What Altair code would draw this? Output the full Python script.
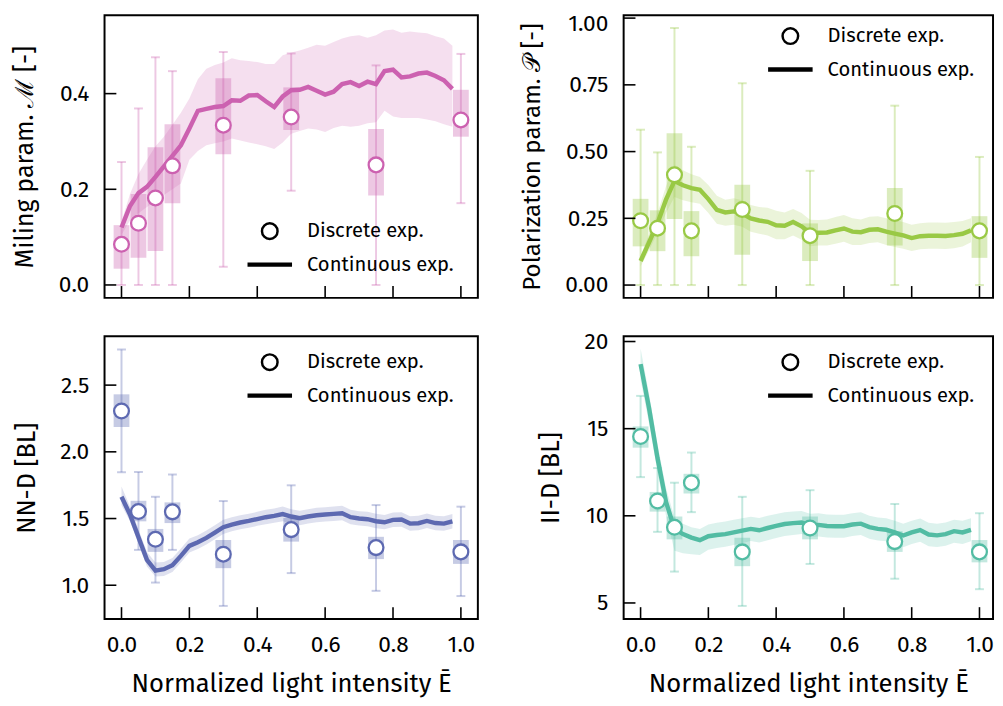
import altair as alt
import pandas as pd

FONT = "Fira Sans, Open Sans, sans-serif"

# x positions
xd = [0.0, 0.05, 0.1, 0.15, 0.3, 0.5, 0.75, 1.0]
xc = [0.0, 0.025, 0.05, 0.075, 0.1, 0.125, 0.15, 0.175, 0.2, 0.225,
      0.25, 0.275, 0.3, 0.325, 0.35, 0.375, 0.4, 0.425, 0.45, 0.475,
      0.5, 0.525, 0.55, 0.575, 0.6, 0.625, 0.65, 0.675, 0.7, 0.725,
      0.75, 0.775, 0.8, 0.825, 0.85, 0.875, 0.9, 0.925, 0.95, 0.975]
xticks = [0.0, 0.2, 0.4, 0.6, 0.8, 1.0]

# Miling parameter
mil_mean = [0.085, 0.129, 0.182, 0.249, 0.334, 0.351, 0.251, 0.345]
mil_q1 = [0.034, 0.057, 0.071, 0.171, 0.273, 0.324, 0.187, 0.310]
mil_q3 = [0.125, 0.190, 0.288, 0.336, 0.432, 0.413, 0.326, 0.408]
mil_wlo = [0.0, 0.0, 0.0, 0.0, 0.038, 0.197, 0.0, 0.171]
mil_whi = [0.257, 0.369, 0.476, 0.447, 0.487, 0.484, 0.459, 0.483]
mil_line = [0.120, 0.165, 0.192, 0.205, 0.226, 0.248, 0.270, 0.292, 0.327, 0.364,
            0.368, 0.372, 0.374, 0.386, 0.385, 0.396, 0.397, 0.384, 0.372, 0.394,
            0.407, 0.408, 0.414, 0.406, 0.398, 0.404, 0.420, 0.424, 0.416, 0.425,
            0.420, 0.447, 0.450, 0.434, 0.436, 0.442, 0.444, 0.437, 0.428, 0.410]
mil_hi = [0.132, 0.190, 0.232, 0.262, 0.290, 0.310, 0.335, 0.360, 0.390, 0.430,
          0.452, 0.460, 0.465, 0.474, 0.470, 0.468, 0.466, 0.462, 0.462, 0.480,
          0.486, 0.490, 0.496, 0.502, 0.500, 0.508, 0.515, 0.520, 0.522, 0.517,
          0.522, 0.532, 0.534, 0.527, 0.530, 0.528, 0.526, 0.520, 0.515, 0.500]
mil_lo = [0.105, 0.135, 0.150, 0.163, 0.175, 0.188, 0.200, 0.212, 0.262, 0.280,
          0.292, 0.296, 0.300, 0.306, 0.302, 0.298, 0.294, 0.290, 0.284, 0.298,
          0.316, 0.322, 0.327, 0.325, 0.320, 0.328, 0.333, 0.331, 0.333, 0.338,
          0.340, 0.364, 0.352, 0.349, 0.349, 0.349, 0.346, 0.342, 0.336, 0.331]

# Polarization parameter
pol_mean = [0.241, 0.213, 0.413, 0.203, 0.283, 0.185, 0.268, 0.203]
pol_q1 = [0.145, 0.127, 0.247, 0.108, 0.114, 0.090, 0.148, 0.102]
pol_q3 = [0.323, 0.280, 0.569, 0.277, 0.376, 0.231, 0.364, 0.258]
pol_wlo = [0.0, 0.0, 0.0, 0.0, 0.0, 0.0, 0.0, 0.0]
pol_whi = [0.582, 0.497, 0.963, 0.518, 0.756, 0.428, 0.672, 0.480]
pol_line = [0.090, 0.160, 0.232, 0.320, 0.390, 0.374, 0.363, 0.357, 0.322, 0.282,
            0.272, 0.276, 0.268, 0.250, 0.242, 0.237, 0.224, 0.222, 0.236, 0.220,
            0.195, 0.196, 0.197, 0.205, 0.212, 0.200, 0.198, 0.207, 0.209, 0.200,
            0.193, 0.186, 0.176, 0.183, 0.185, 0.185, 0.184, 0.187, 0.192, 0.205]
pol_hi = [0.110, 0.190, 0.270, 0.370, 0.450, 0.430, 0.415, 0.405, 0.375, 0.335,
          0.320, 0.325, 0.318, 0.300, 0.292, 0.290, 0.278, 0.272, 0.285, 0.270,
          0.245, 0.244, 0.246, 0.255, 0.262, 0.250, 0.246, 0.256, 0.258, 0.250,
          0.243, 0.236, 0.226, 0.232, 0.234, 0.234, 0.233, 0.236, 0.240, 0.250]
pol_lo = [0.070, 0.130, 0.195, 0.270, 0.330, 0.318, 0.310, 0.305, 0.270, 0.230,
          0.222, 0.226, 0.218, 0.200, 0.192, 0.186, 0.172, 0.172, 0.186, 0.170,
          0.145, 0.148, 0.148, 0.155, 0.162, 0.150, 0.150, 0.158, 0.160, 0.150,
          0.143, 0.136, 0.128, 0.134, 0.136, 0.136, 0.135, 0.138, 0.144, 0.160]

# Nearest-neighbour distance
nnd_mean = [2.306, 1.552, 1.344, 1.550, 1.233, 1.417, 1.282, 1.250]
nnd_q1 = [2.186, 1.479, 1.250, 1.466, 1.128, 1.327, 1.196, 1.160]
nnd_q3 = [2.431, 1.633, 1.422, 1.621, 1.339, 1.504, 1.363, 1.339]
nnd_wlo = [1.847, 1.265, 1.020, 1.265, 0.845, 1.091, 0.958, 0.919]
nnd_whi = [2.767, 1.849, 1.663, 1.830, 1.631, 1.749, 1.601, 1.589]
nnd_line = [1.663, 1.530, 1.360, 1.190, 1.110, 1.120, 1.150, 1.220, 1.295, 1.322,
            1.355, 1.395, 1.435, 1.455, 1.470, 1.482, 1.496, 1.510, 1.520, 1.533,
            1.515, 1.503, 1.515, 1.525, 1.530, 1.535, 1.540, 1.510, 1.500, 1.495,
            1.480, 1.472, 1.490, 1.492, 1.462, 1.465, 1.482, 1.466, 1.462, 1.479]
nnd_hi = [1.740, 1.590, 1.420, 1.250, 1.170, 1.175, 1.205, 1.275, 1.350, 1.375,
          1.410, 1.450, 1.490, 1.510, 1.525, 1.535, 1.550, 1.565, 1.575, 1.590,
          1.570, 1.558, 1.570, 1.580, 1.585, 1.590, 1.595, 1.565, 1.555, 1.550,
          1.535, 1.527, 1.545, 1.547, 1.517, 1.520, 1.537, 1.521, 1.517, 1.534]
nnd_lo = [1.600, 1.480, 1.310, 1.140, 1.065, 1.070, 1.100, 1.170, 1.245, 1.272,
          1.305, 1.345, 1.385, 1.405, 1.420, 1.430, 1.445, 1.458, 1.468, 1.480,
          1.462, 1.450, 1.462, 1.472, 1.477, 1.482, 1.487, 1.457, 1.447, 1.442,
          1.427, 1.419, 1.437, 1.439, 1.409, 1.412, 1.429, 1.413, 1.409, 1.426]

# Inter-individual distance
iid_mean = [14.55, 10.85, 9.34, 11.90, 7.93, 9.30, 8.52, 7.93]
iid_q1 = [13.91, 10.24, 8.65, 11.28, 7.11, 8.65, 7.93, 7.33]
iid_q3 = [15.13, 11.37, 9.96, 12.41, 8.74, 9.96, 9.12, 8.61]
iid_wlo = [12.22, 9.08, 6.80, 10.21, 4.83, 7.24, 6.39, 5.79]
iid_whi = [16.88, 12.74, 11.90, 13.63, 11.09, 11.47, 10.68, 10.15]
iid_line = [18.70, 16.17, 13.30, 10.80, 9.25, 8.95, 8.75, 8.60, 8.83, 8.90,
            8.95, 9.05, 9.15, 9.25, 9.17, 9.30, 9.42, 9.53, 9.58, 9.62,
            9.45, 9.48, 9.42, 9.40, 9.40, 9.50, 9.55, 9.35, 9.25, 9.20,
            9.05, 8.87, 9.05, 9.18, 8.93, 8.88, 8.95, 9.12, 9.05, 9.20]
iid_hi = [19.60, 17.00, 14.10, 11.60, 9.90, 9.55, 9.35, 9.25, 9.50, 9.60,
          9.68, 9.78, 9.86, 9.95, 9.88, 10.00, 10.10, 10.20, 10.25, 10.28,
          10.12, 10.15, 10.08, 10.06, 10.06, 10.15, 10.20, 10.01, 9.91, 9.86,
          9.72, 9.55, 9.72, 9.85, 9.60, 9.55, 9.62, 9.78, 9.72, 9.86]
iid_lo = [17.80, 15.30, 12.50, 10.00, 8.00, 7.85, 7.80, 7.75, 8.05, 8.15,
          8.22, 8.32, 8.44, 8.55, 8.47, 8.60, 8.72, 8.84, 8.90, 8.95,
          8.78, 8.81, 8.75, 8.74, 8.74, 8.84, 8.90, 8.69, 8.59, 8.54,
          8.38, 8.20, 8.38, 8.51, 8.26, 8.21, 8.28, 8.46, 8.38, 8.54]

legend_kinds = ["Discrete exp.", "Continuous exp."]
legend_shapes = ["circle", "M-2.7,-0.127H2.7V0.127H-2.7Z"]

H = 287


def panel(color, mean, q1, q3, wlo, whi, line, lo, hi, ydom, yticks, yfmt,
          ytitle, bottom, width, xdom, legx, legy, flush=False, ytsize=25.5):
    disc = pd.DataFrame({"x": xd, "mean": mean, "q1": q1, "q3": q3,
                         "wlo": wlo, "whi": whi})
    cont = pd.DataFrame({"x": xc, "line": line, "lo": lo, "hi": hi})
    keydf = pd.DataFrame({"kind": legend_kinds, "x": [xd[0]] * 2, "mean": [mean[0]] * 2})
    xs = alt.Scale(domain=xdom, nice=False, zero=False, padding=0)
    ys = alt.Scale(domain=ydom, nice=False, zero=False, padding=0)
    if bottom:
        xaxis = alt.Axis(values=xticks, format=".1f", ticks=False, domain=False,
                         grid=False, labelPadding=15,
                         title="Normalized light intensity Ē", titlePadding=15,
                         titleFontSize=26)
    else:
        xaxis = None
    yargs = dict(values=yticks, format=yfmt, ticks=False, domain=False,
                 grid=False, labelPadding=16, title=ytitle, titlePadding=21,
                 titleFontSize=ytsize)
    if flush:
        yargs.update(labelFlush=5, labelFlushOffset=5)
    yaxis = alt.Axis(**yargs)

    def X(f):
        return alt.X(f, scale=xs, axis=xaxis)

    def Y(f):
        return alt.Y(f, scale=ys, axis=yaxis)

    band = alt.Chart(cont).mark_area(color=color, opacity=0.2).encode(
        x=X("x:Q"), y=Y("lo:Q"), y2="hi:Q")
    whisk = alt.Chart(disc).mark_rule(color=color, opacity=0.35, strokeWidth=2).encode(
        x=X("x:Q"), y=Y("wlo:Q"), y2="whi:Q")
    cap_lo = alt.Chart(disc).mark_tick(color=color, opacity=0.35, orient="horizontal",
                                       size=9, thickness=2).encode(x=X("x:Q"), y=Y("wlo:Q"))
    cap_hi = alt.Chart(disc).mark_tick(color=color, opacity=0.35, orient="horizontal",
                                       size=9, thickness=2).encode(x=X("x:Q"), y=Y("whi:Q"))
    box = alt.Chart(disc).mark_bar(color=color, opacity=0.35, size=16).encode(
        x=X("x:Q"), y=Y("q1:Q"), y2="q3:Q")
    ln = alt.Chart(cont).mark_line(color=color, strokeWidth=4.5).encode(
        x=X("x:Q"), y=Y("line:Q"))
    pts = alt.Chart(disc).mark_point(filled=True, fill="white", stroke=color,
                                     strokeWidth=2.3, size=225, opacity=1).encode(
        x=X("x:Q"), y=Y("mean:Q"))
    key = alt.Chart(keydf).mark_point(filled=False, color="black", fill="white",
                                      strokeWidth=2.5, size=250, opacity=0).encode(
        x=X("x:Q"), y=Y("mean:Q"),
        shape=alt.Shape("kind:N",
                        scale=alt.Scale(domain=legend_kinds, range=legend_shapes),
                        legend=alt.Legend(orient="none", legendX=legx, legendY=legy,
                                          title=None, labelFontSize=20.5, labelFont=FONT,
                                          labelColor="black",
                                          symbolSize=250, symbolStrokeWidth=2.5,
                                          symbolOpacity=1,
                                          labelOffset=27.5, rowPadding=10, padding=0)))
    xt = alt.Chart(pd.DataFrame({"t": xticks})).mark_rule(color="black", strokeWidth=1.6).encode(
        x=X("t:Q"), y=alt.value(H), y2=alt.value(H - 12))
    yt = alt.Chart(pd.DataFrame({"t": yticks})).mark_rule(color="black", strokeWidth=1.6).encode(
        y=Y("t:Q"), x=alt.value(0), x2=alt.value(12))
    return alt.layer(band, whisk, cap_lo, cap_hi, box, ln, pts, key, xt, yt).properties(
        width=width, height=H)


p1 = panel("#CC61B0", mil_mean, mil_q1, mil_q3, mil_wlo, mil_whi, mil_line, mil_lo, mil_hi,
           [-0.027, 0.564], [0.0, 0.2, 0.4], ".1f", "Miling param. ℳ [-]", False,
           379, [-0.05, 1.05], 157.5, 209)
p2 = panel("#99C945", pol_mean, pol_q1, pol_q3, pol_wlo, pol_whi, pol_line, pol_lo, pol_hi,
           [-0.048, 1.011], [0.0, 0.25, 0.5, 0.75, 1.0], ".2f", "Polarization param. 𝒫 [-]",
           False, 375, [-0.05, 1.04], 159, 11, flush=True, ytsize=24.5)
p3 = panel("#5D69B1", nnd_mean, nnd_q1, nnd_q3, nnd_wlo, nnd_whi, nnd_line, nnd_lo, nnd_hi,
           [0.747, 2.866], [1.0, 1.5, 2.0, 2.5], ".1f", "NN-D [BL]", True,
           379, [-0.05, 1.05], 157.5, 16)
p4 = panel("#52BCA3", iid_mean, iid_q1, iid_q3, iid_wlo, iid_whi, iid_line, iid_lo, iid_hi,
           [4.08, 20.3], [5, 10, 15, 20], "d", "II-D [BL]", True,
           375, [-0.05, 1.04], 159, 16)

chart = alt.concat(p1, p2, p3, p4, columns=2, spacing={"row": 39, "column": 148},
                   bounds="flush").resolve_scale(shape="independent").resolve_legend(
    shape="independent").properties(
    padding={"left": 4, "top": -2, "right": 0, "bottom": 0}
).configure_view(stroke="black", strokeWidth=2).configure_axis(
    labelFont=FONT, titleFont=FONT, labelFontSize=23, titleFontSize=25.5,
    labelColor="black", titleColor="black", titleFontWeight="normal"
)

chart.save("out.html", embed_options={"renderer": "svg", "actions": False})
